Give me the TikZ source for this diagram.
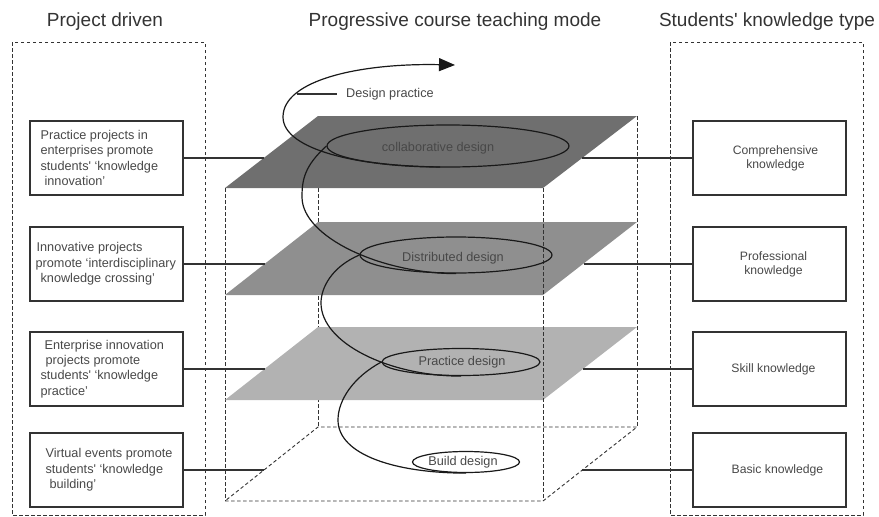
\documentclass[tikz,border=0pt]{standalone}
\usepackage{fontspec}
\setmainfont{Liberation Sans}
\usetikzlibrary{arrows.meta,calc,shapes.geometric}
\definecolor{ink}{HTML}{333333}
\definecolor{txt}{HTML}{484848}
\definecolor{planeA}{HTML}{6F6F6F}
\definecolor{planeB}{HTML}{8F8F8F}
\definecolor{planeC}{HTML}{B2B2B2}

\begin{document}
\begin{tikzpicture}[x=1pt,y=-1pt,
  title/.style={font=\fontsize{19}{22}\selectfont, text=ink, inner sep=0pt, anchor=base},
  frame/.style={draw=ink, line width=0.9pt, dash pattern=on 3.5pt off 2.5pt},
  hidden/.style={draw=ink, line width=0.9pt, dash pattern=on 3.5pt off 2.5pt},
  pbox/.style={draw=ink, line width=1.2pt, minimum width=153pt, minimum height=74pt, inner sep=0pt},
  ptext/.style={font=\fontsize{12.7}{15.3}\selectfont, text=txt, align=left, inner sep=0pt, anchor=west},
  ktext/.style={font=\fontsize{12.2}{14.2}\selectfont, text=txt, align=center, inner sep=0pt},
  link/.style={draw=ink, line width=1.1pt},
  spiral/.style={draw=black!90, line width=1.2pt},
  ring/.style={draw=black!90, line width=1.2pt, ellipse, inner sep=0pt},
  ltext/.style={font=\fontsize{12.7}{15}\selectfont, text=txt, inner sep=0pt}
]
\useasboundingbox (0,0) rectangle (879,517);

% column headings
\node[title] (t1) at (105,26) {Project driven};
\node[title] (t2) at (455,26) {Progressive course teaching mode};
\node[title] (t3) at (767,26) {Students\textquotesingle{} knowledge type};

% dashed column frames
\draw[frame] (12,42) rectangle (205,515);
\draw[frame] (670,42) rectangle (863,515);

% hidden edges of the box (behind the layers)
\draw[hidden] (318,116) -- (318,427);
\draw[hidden] (637,116) -- (637,427);
\draw[hidden] (225,188) -- (225,501);
\draw[hidden] (225,501) -- (543,501) -- (637,427) -- (318,427) -- cycle;

% the three layers
\fill[planeA] (225,188) -- (543,188) -- (637,116) -- (318,116) -- cycle;
\fill[planeB] (225,295) -- (543,295) -- (637,222) -- (318,222) -- cycle;
\fill[planeC] (225,400) -- (543,400) -- (637,327) -- (318,327) -- cycle;

% front right edge, in front of the layers
\draw[hidden] (543,188) -- (543,501);

% points where the links meet the layers
\coordinate (e1L) at (263.75,158);
\coordinate (e2L) at (265,264);
\coordinate (e3L) at (264.5,369);
\coordinate (e4L) at (264,470);
\coordinate (e1R) at (582,158);
\coordinate (e2R) at (584,264);
\coordinate (e3R) at (583,369);
\coordinate (e4R) at (582,470);

% project boxes
\node[pbox] (lb1) at (106.5,158) {};
\node[pbox] (lb2) at (106.5,264) {};
\node[pbox] (lb3) at (106.5,369) {};
\node[pbox] (lb4) at (106.5,470) {};
\node[ptext] (lt1) at ([xshift=11pt]lb1.west) {Practice projects in\\enterprises promote\\students\textquotesingle{} ‘knowledge\\\hspace*{4pt}innovation’};
\node[ptext] (lt2) at ([xshift=11pt]lb2.west) {\hspace*{-4pt}Innovative projects\\\hspace*{-5pt}promote ‘interdisciplinary\\knowledge crossing’};
\node[ptext] (lt3) at ([xshift=11pt]lb3.west) {\hspace*{4pt}Enterprise innovation\\\hspace*{5pt}projects promote\\students\textquotesingle{} ‘knowledge\\practice’};
\node[ptext] (lt4) at ([xshift=11pt]lb4.west) {\hspace*{5pt}Virtual events promote\\\hspace*{5pt}students\textquotesingle{} ‘knowledge\\\hspace*{9pt}building’};

% knowledge boxes
\node[pbox] (rb1) at (769.5,158) {};
\node[pbox] (rb2) at (769.5,264) {};
\node[pbox] (rb3) at (769.5,369) {};
\node[pbox] (rb4) at (769.5,470) {};
\node[ktext] (rt1) at ([xshift=6pt]rb1.center) {Comprehensive\\knowledge};
\node[ktext] (rt2) at ([xshift=4pt]rb2.center) {Professional\\knowledge};
\node[ktext] (rt3) at ([xshift=4pt]rb3.center) {Skill knowledge};
\node[ktext] (rt4) at ([xshift=8pt]rb4.center) {Basic knowledge};

% links
\draw[link] (lb1.east) -- (lb1.east -| e1L);
\draw[link] (lb2.east) -- (lb2.east -| e2L);
\draw[link] (lb3.east) -- (lb3.east -| e3L);
\draw[link] (lb4.east) -- (lb4.east -| e4L);
\draw[link] (e1R) -- (e1R -| rb1.west);
\draw[link] (e2R) -- (e2R -| rb2.west);
\draw[link] (e3R) -- (e3R -| rb3.west);
\draw[link] (e4R) -- (e4R -| rb4.west);

% design rings
\node[ring, minimum width=242pt, minimum height=42pt] (c1) at (448,146) {};
\node[ring, minimum width=192pt, minimum height=36pt] (c2) at (456,255) {};
\node[ring, minimum width=158pt, minimum height=27pt] (c3) at (461,362) {};
\node[ring, minimum width=107pt, minimum height=21pt] (c4) at (466,462) {};
\node[ltext] (d1) at (438,148) {collaborative design};
\node[ltext] (d2) at (453,258) {Distributed design};
\node[ltext] (d3) at (462,362) {Practice design};
\node[ltext] (d4) at (463,462) {Build design};

% the rising spiral
\coordinate (tip) at (455,65);
\draw[spiral, -{Triangle[length=16pt,width=13pt]}]
  (440,167) .. controls (360,167) and (283,150) .. (283,117)
  .. controls (283,80) and (360,63) .. (tip);
\draw[spiral] (c1.west) .. controls +(-22,20) and +(0,-17) .. (302,197)
  .. controls +(0,40) and +(-75,0) .. (c2.south);
\draw[spiral] (c2.west) .. controls +(-28,12) and +(0,-15) .. (321,303)
  .. controls +(0,40) and +(-72,0) .. (c3.south);
\draw[spiral] (c3.west) .. controls +(-28,15) and +(0,-20) .. (338,420)
  .. controls +(0,35) and +(-70,0) .. (c4.south);

% spiral caption
\coordinate (dpc) at (297,94);
\node[ltext, anchor=west] (dp) at (346,94) {Design practice};
\draw[link] (dpc) -- ([xshift=-9pt]dp.west);
\end{tikzpicture}
\end{document}
